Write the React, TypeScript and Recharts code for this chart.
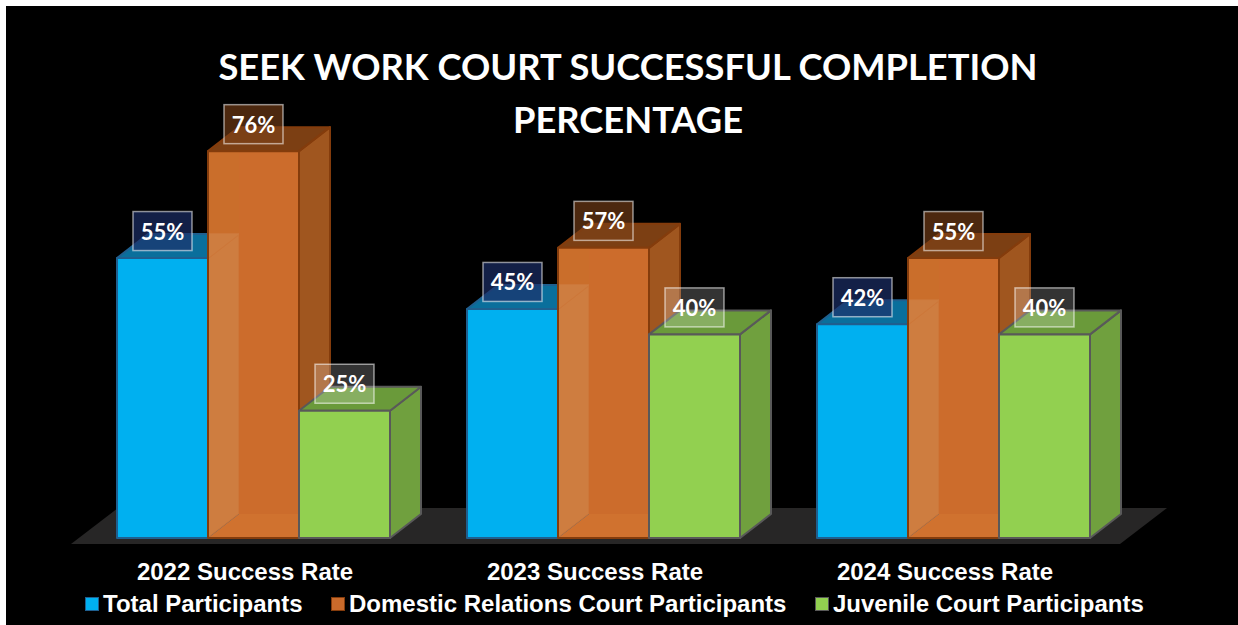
import React from "react";
import { BarChart, Bar, XAxis, YAxis, Legend, LabelList } from "recharts";

const categories = ["2022 Success Rate", "2023 Success Rate", "2024 Success Rate"];
const totalParticipants = [55, 45, 42];
const domesticRelations = [76, 57, 55];
const juvenileCourt = [25, 40, 40];
const titleLines = ["SEEK WORK COURT SUCCESSFUL COMPLETION", "PERCENTAGE"];

const rows = categories.map((name, i) => ({
  name,
  total: totalParticipants[i],
  domestic: domesticRelations[i],
  juvenile: juvenileCourt[i],
}));

const DX = 31;
const DY = 24;
const LABEL_FONT = "Lato, 'Open Sans', sans-serif";
const ARIAL = "'Liberation Sans', Arial, sans-serif";

const pts = (...p: number[][]) => p.map((q) => q.join(",")).join(" ");

// Solid 3-D column: front, top and right faces.
function Column({ x, y, width, height, front, top, side, edge, sideReachesTop }: any) {
  const b = y + height;
  const r = x + width;
  return (
    <g strokeWidth={2} stroke={edge} strokeLinejoin="round">
      <polygon points={pts([r, y], [r + DX, y - DY], [r + DX, b - DY], [r, b])} fill={side} />
      <polygon points={pts([x, y], [x + DX, y - DY], [r + DX, y - DY], [r, y])} fill={top} />
      {sideReachesTop && (
        <polygon points={pts([r, y], [r, y - DY], [r + DX, y - DY])} fill={side} stroke="none" />
      )}
      <rect x={x} y={y} width={width} height={height} fill={front} />
    </g>
  );
}

// The middle column reads as glass: its left wall and floor show through the front.
function GlassColumn({ x, y, width, height }: any) {
  const b = y + height;
  const r = x + width;
  const edge = "#843c0c";
  return (
    <g strokeLinejoin="round">
      <polygon
        points={pts([r, y], [r + DX, y - DY], [r + DX, b - DY], [r, b])}
        fill="#a0561f"
        stroke={edge}
        strokeWidth={2}
      />
      <polygon
        points={pts([x, y], [x + DX, y - DY], [r + DX, y - DY], [r, y])}
        fill="#7c3f13"
        stroke={edge}
        strokeWidth={2}
      />
      <rect x={x + DX} y={y} width={width - DX} height={height} fill="#cc6c2c" />
      <polygon
        points={pts([x, y], [x + DX, y], [x + DX, b - DY], [x, b])}
        fill="#e07a30"
        fillOpacity={0.9}
      />
      <polygon points={pts([x, b], [x + DX, b - DY], [r, b - DY], [r, b])} fill="#d0722f" />
      <rect x={x} y={y} width={width} height={height} fill="none" stroke={edge} strokeWidth={2} />
    </g>
  );
}

const BlueShape = (p: any) => (
  <Column {...p} front="#00b0f0" top="#0a6f9c" side="#2c9ad8" edge="#1f5f8f" sideReachesTop />
);
const OrangeShape = (p: any) => <GlassColumn {...p} />;
const GreenShape = (p: any) => (
  <Column {...p} front="#92d050" top="#6a9a3a" side="#70a03e" edge="#595959" />
);

// Value tag floating above the column's top face.
const valueTag = (fill: string, opacity: number) => (p: any) => {
  const cx = p.x + p.width / 2;
  const cy = p.y - 27;
  return (
    <g>
      <rect
        x={cx - 29.5}
        y={cy - 19.5}
        width={59}
        height={39}
        fill={fill}
        fillOpacity={opacity}
        stroke="#ffffff"
        strokeOpacity={0.55}
        strokeWidth={1.5}
      />
      <text
        x={cx}
        y={cy + 8.5}
        textAnchor="middle"
        fontFamily={LABEL_FONT}
        fontWeight={700}
        fontSize={22}
        fill="#ffffff"
      >
        {p.value}%
      </text>
    </g>
  );
};

const legendSlots = [85, 331, 815];

const LegendRow = ({ payload }: any) => (
  <div style={{ position: "relative", height: 24, width: 1238 }}>
    {(payload || []).map((item: any, i: number) => (
      <div
        key={item.value}
        style={{
          position: "absolute",
          left: legendSlots[i],
          top: 0,
          display: "flex",
          alignItems: "center",
          fontFamily: ARIAL,
          fontWeight: 700,
          fontSize: 24,
          lineHeight: "24px",
          color: "#ffffff",
          whiteSpace: "nowrap",
        }}
      >
        <span
          style={{
            display: "inline-block",
            boxSizing: "border-box",
            width: 14,
            height: 14,
            marginRight: 4,
            background: item.color,
            border: `1px solid ${i === 0 ? "#1f5f8f" : i === 1 ? "#843c0c" : "#595959"}`,
          }}
        />
        {item.value}
      </div>
    ))}
  </div>
);

const shiftedTick = ({ x, y, payload }: any) => (
  <text
    x={x - 9}
    y={y + 36}
    textAnchor="middle"
    fontFamily={ARIAL}
    fontWeight={700}
    fontSize={24}
    fill="#ffffff"
  >
    {payload.value}
  </text>
);

export default function App() {
  return (
    <div style={{ position: "absolute", left: 0, top: 0, width: 1238, height: 625, background: "#fff" }}>
      <div style={{ position: "absolute", left: 6, top: 6, width: 1232, height: 619, background: "#000" }} />
      <svg width={1238} height={625} style={{ position: "absolute", left: 0, top: 0 }}>
        <polygon points={pts([71, 544], [118, 508], [1167, 508], [1120, 544])} fill="#272626" />
      </svg>
      <div style={{ position: "absolute", left: 0, top: 0 }}>
        <BarChart
          width={1238}
          height={625}
          data={rows}
          margin={{ top: 29, right: 109, bottom: 33, left: 79 }}
          barCategoryGap={38}
          barGap={0}
        >
          <text textAnchor="middle" fontFamily={LABEL_FONT} fontWeight={700} fontSize={36.3} fill="#ffffff">
            <tspan x={628} y={80}>{titleLines[0]}</tspan>
            <tspan x={628} y={133}>{titleLines[1]}</tspan>
          </text>
          <XAxis
            dataKey="name"
            axisLine={false}
            tickLine={false}
            height={30}
            tickMargin={0}
            interval={0}
            tick={shiftedTick}
          />
          <YAxis hide domain={[0, 100]} />
          <Legend
            content={<LegendRow />}
            itemSorter={null}
            wrapperStyle={{ left: 0, top: 592, bottom: "auto", width: 1238 }}
          />
          <Bar dataKey="total" name="Total Participants" fill="#00b0f0" shape={BlueShape} isAnimationActive={false}>
            <LabelList dataKey="total" content={valueTag("#1c2f68", 0.68)} />
          </Bar>
          <Bar
            dataKey="domestic"
            name="Domestic Relations Court Participants"
            fill="#c96a2b"
            shape={OrangeShape}
            isAnimationActive={false}
          >
            <LabelList dataKey="domestic" content={valueTag("#7a4018", 0.62)} />
          </Bar>
          <Bar
            dataKey="juvenile"
            name="Juvenile Court Participants"
            fill="#92d050"
            shape={GreenShape}
            isAnimationActive={false}
          >
            <LabelList dataKey="juvenile" content={valueTag("#ffffff", 0.2)} />
          </Bar>
        </BarChart>
      </div>
    </div>
  );
}
